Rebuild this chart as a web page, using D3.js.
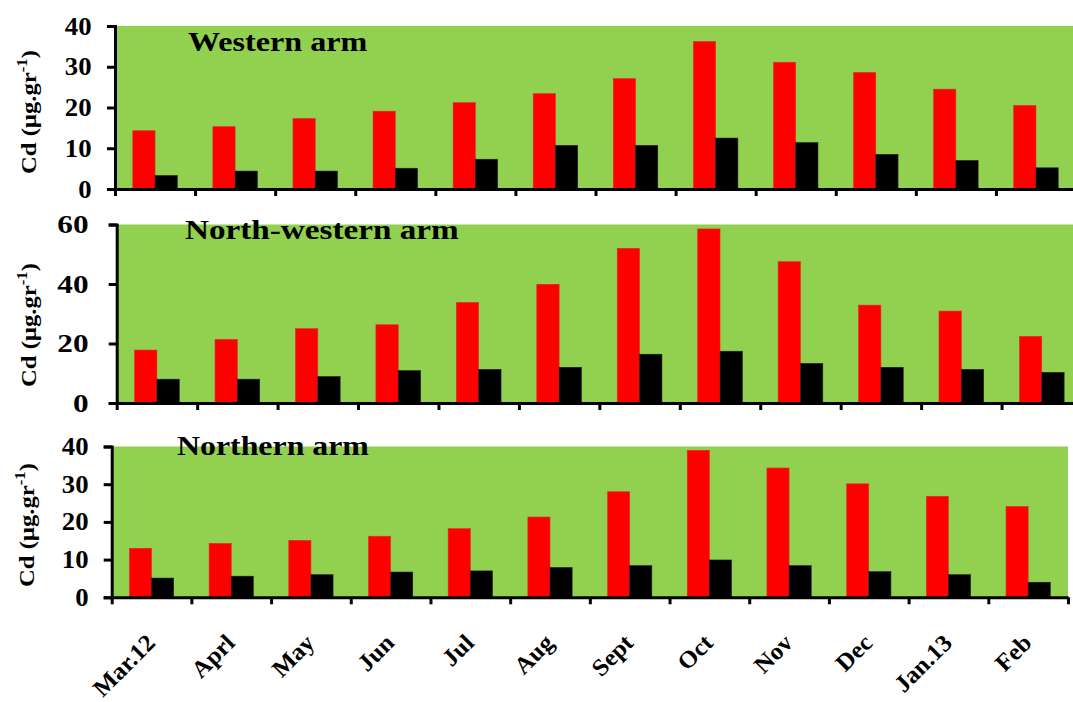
<!DOCTYPE html>
<html><head><meta charset="utf-8">
<script src="https://cdn.jsdelivr.net/npm/d3@7"></script>
<style>
body{margin:0;background:#fff;}
svg{display:block;}
text{font-family:"Liberation Serif","DejaVu Serif",serif;font-weight:bold;fill:#000;}
</style></head>
<body><svg id="c" width="1073" height="702"></svg>
<script>
const months = ["Mar.12","Aprl","May","Jun","Jul","Aug","Sept","Oct","Nov","Dec","Jan.13","Feb"];
const series = ["red","black"];
const westernRed   = [14.3,15.3,17.3,19.1,21.2,23.4,27.1,36.2,31.1,28.6,24.5,20.5];
const westernBlack = [3.3,4.4,4.4,5.1,7.3,10.7,10.7,12.5,11.4,8.5,7.0,5.2];
const nwRed   = [17.8,21.4,25.0,26.3,33.8,39.9,52.0,58.5,47.5,32.9,30.9,22.4];
const nwBlack = [8.0,8.0,8.9,10.9,11.3,12.0,16.4,17.4,13.3,12.0,11.3,10.3];
const northRed   = [13.0,14.3,15.1,16.2,18.2,21.3,28.0,39.0,34.3,30.1,26.8,24.1];
const northBlack = [5.1,5.6,6.0,6.7,7.0,7.9,8.4,9.9,8.4,6.8,6.0,4.0];
const yTicksW = [0,10,20,30,40];
const yTicksNW = [0,20,40,60];
const yTicksN = [0,10,20,30,40];
const titles = ["Western arm","North-western arm","Northern arm"];

const svg = d3.select("#c");
const colors = {red:"#ff0000", black:"#000000"};

const panels = [
  {title:titles[0], red:westernRed, black:westernBlack, ticks:yTicksW, max:40, x0:115, x1:1076, yTop:26, yBot:189, tx:188, ty:51, ts:1.19, labelY:112, labelX:36, lblEnd:91.5, lblS:1.07},
  {title:titles[1], red:nwRed, black:nwBlack, ticks:yTicksNW, max:60, x0:116.7, x1:1082, yTop:224.5, yBot:403, tx:185, ty:239, ts:1.23, labelY:325, labelX:36, lblEnd:88.5, lblS:1.25},
  {title:titles[2], red:northRed, black:northBlack, ticks:yTicksN, max:40, x0:111.7, x1:1068, yTop:446.5, yBot:597.3, tx:177, ty:455, ts:1.18, labelY:525, labelX:34, lblEnd:88.5, lblS:1.07, xlabels:true}
];

panels.forEach(p => {
  const g = svg.append("g");
  const x = d3.scaleBand().domain(months).range([p.x0, p.x1]).padding(0);
  const xs = d3.scaleBand().domain(series).range([0, x.bandwidth()]).paddingInner(0).paddingOuter(0.8);
  const y = d3.scaleLinear().domain([0, p.max]).range([p.yBot, p.yTop]);
  const idx = d3.scaleLinear().domain([0, months.length]).range([p.x0, p.x1]);

  g.append("rect").attr("x", p.x0).attr("y", p.yTop).attr("width", p.x1 - p.x0).attr("height", p.yBot - p.yTop).attr("fill", "#92d050");

  g.append("text").attr("transform", `translate(${p.tx},${p.ty}) scale(${p.ts},1)`).style("font-size","27px").text(p.title);

  months.forEach((m, i) => {
    series.forEach(s => {
      const v = p[s][i];
      g.append("rect")
        .attr("x", x(m) + xs(s))
        .attr("y", y(v))
        .attr("width", xs.bandwidth())
        .attr("height", y(0) - y(v))
        .attr("fill", colors[s])
        .attr("stroke", s === "red" ? "#e03020" : "#222")
        .attr("stroke-width", 0.6);
    });
  });

  const ya = d3.axisLeft(y).tickValues(p.ticks).tickSize(8).tickPadding(16).tickFormat(d3.format("d"));
  const yg = g.append("g").attr("transform", `translate(${p.x0},0)`).call(ya);
  yg.select(".domain").attr("stroke-width", 3);
  yg.selectAll(".tick line").attr("stroke-width", 3);
  yg.selectAll(".tick text")
    .attr("x", 0)
    .attr("transform", `translate(${p.lblEnd - p.x0},0) scale(${p.lblS},1)`)
    .style("font-size","25px").style("font-family",'"Liberation Serif",serif').style("font-weight","bold");

  const xa = d3.axisBottom(idx).tickValues(d3.range(0, months.length + 1)).tickSize(7).tickSizeOuter(0).tickFormat("");
  const xg = g.append("g").attr("transform", `translate(0,${p.yBot})`).call(xa);
  xg.select(".domain").attr("stroke-width", 3);
  xg.selectAll(".tick line").attr("stroke-width", 3);

  const lab = g.append("text")
    .attr("transform", `translate(${p.labelX},${p.labelY}) rotate(-90) scale(1.12,1)`)
    .attr("text-anchor","middle")
    .style("font-size","22px");
  lab.append("tspan").text("Cd (µg.gr");
  lab.append("tspan").attr("dy", -9).style("font-size","15px").text("-1");
  lab.append("tspan").attr("dy", 9).text(")");

  if (p.xlabels) {
    g.selectAll(".xl").data(months).enter().append("text")
      .attr("class","xl")
      .attr("text-anchor","end")
      .attr("transform", d => `translate(${x(d) + x.bandwidth()/2 + 5},${p.yBot + 47}) rotate(-45) scale(1.04,1)`)
      .style("font-size","24px")
      .text(d => d);
  }
});
</script></body></html>
